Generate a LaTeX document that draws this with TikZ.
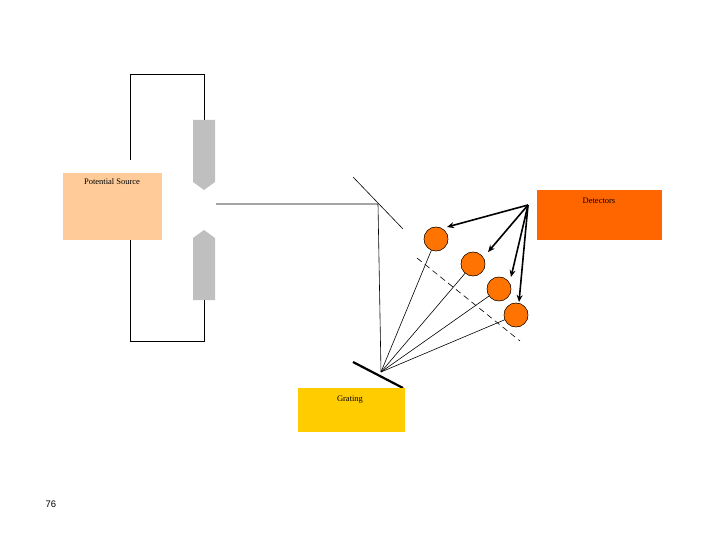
\documentclass[tikz,border=0pt]{standalone}
\usepackage{fontspec}
\usetikzlibrary{arrows.meta}
\setmainfont{Liberation Serif}
\newfontfamily\sansf{Liberation Sans}
\begin{document}
\begin{tikzpicture}[x=1pt,y=-1pt,
  wire/.style={black,line width=0.8pt},
  thin/.style={black,line width=0.6pt},
  elec/.style={fill=black!25,draw=none},
  det/.style={circle,fill=orange!90!red,draw=black,line width=0.4pt,minimum size=24pt,inner sep=0pt},
  arr/.style={black,line width=1.6pt,-{Stealth[length=7pt,width=6pt]}},
  lbl/.style={font=\fontsize{8.5}{10}\selectfont}]
\useasboundingbox (0,0) rectangle (720,540);
\definecolor{peach}{HTML}{FFCC99}
\definecolor{dorange}{HTML}{FF6600}
\definecolor{gold}{HTML}{FFCC00}
% power source box
\fill[peach] (63,173) rectangle (162,240);
\node[lbl] (ps) at (112,182) {Potential Source};
% wires
\draw[wire] (130,160) -- (130,74) -- (204,74) -- (204,120);
\draw[wire] (130,240) -- (130,341) -- (204,341) -- (204,300);
% electrodes
\fill[elec] (193,120) -- (215,120) -- (215,182) -- (204,190) -- (193,182) -- cycle;
\fill[elec] (193,300) -- (215,300) -- (215,238) -- (204,230) -- (193,238) -- cycle;
% beam and mirror
\coordinate (m) at (378,204);
\coordinate (g) at (381,372);
\draw[thin] (216,204) -- (m) -- (g);
\draw[thin] (353,177) -- (403,229);
% grating
\draw[black,line width=2.2pt] (353,362) -- (403,388);
\fill[gold] (298,388) rectangle (405,432);
\node[lbl] (gr) at (350,400) {Grating};
% detectors box
\fill[dorange] (537,190) rectangle (662,240);
\node[lbl] (dt) at (599,201) {Detectors};
% dashed focal line
\draw[thin,dash pattern=on 6pt off 4pt] (417,258) -- (520,341);
% circles
\node[det] (c1) at (436,239) {};
\node[det] (c2) at (473,264) {};
\node[det] (c3) at (499,289) {};
\node[det] (c4) at (516,315) {};
\foreach \c in {c1,c2,c3,c4} \draw[thin] (g) -- (\c);
\foreach \c in {c1,c2,c3,c4} \node[det] at (\c) {};
% arrows
\coordinate (s) at (528,205);
\draw[arr] (s) -- (447,227);
\draw[arr] (s) -- (488,252);
\draw[arr] (s) -- (511,277);
\draw[arr] (s) -- (519,302);
\node[font=\sansf\fontsize{9.5}{11}\selectfont] (num) at (51,504) {76};
\end{tikzpicture}
\end{document}
